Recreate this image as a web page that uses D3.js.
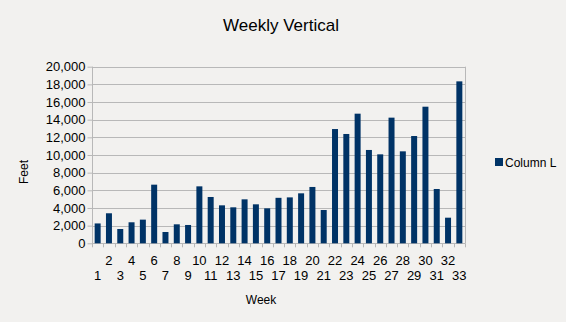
<!DOCTYPE html>
<html><head><meta charset="utf-8">
<script src="https://cdn.jsdelivr.net/npm/d3@7"></script>
<style>body{margin:0;background:#f2f1ef;}svg{display:block;font-family:"Liberation Sans",Arial,sans-serif;}</style>
</head><body>
<script>
const weeks = d3.range(1, 34).map(String);
const columnL = [2250,3400,1620,2380,2680,6640,1280,2150,2075,6450,5245,4300,4075,4980,4415,3960,5150,5200,5660,6380,3770,12940,12380,14680,10570,10075,14230,10415,12150,15470,6150,2900,18340];
const yTicks = [0,2000,4000,6000,8000,10000,12000,14000,16000,18000,20000];
const title = "Weekly Vertical", xTitle = "Week", yTitle = "Feet", seriesName = "Column L";

const W = 566, H = 322;
const svg = d3.select("body").append("svg").attr("width", W).attr("height", H);
svg.append("rect").attr("width", W).attr("height", H).attr("fill", "#f2f1ef");
const L = 92, R = 465, T = 66.7, B = 243.3;
const x = d3.scaleBand().domain(weeks).range([L, R]).paddingInner(0.47).paddingOuter(0.235);
const xb = d3.scaleLinear().domain([0, weeks.length]).range([L, R]);
const y = d3.scaleLinear().domain([0, 20000]).range([B, T]);
const fmt = d3.format(",");

// gridlines
svg.append("g").selectAll("line").data(yTicks).join("line")
  .attr("x1", L).attr("x2", R).attr("y1", d => Math.round(y(d)) + 0.5).attr("y2", d => Math.round(y(d)) + 0.5)
  .attr("stroke", "#b8b8b8").attr("stroke-width", 1);
// right border
svg.append("line").attr("x1", R + 0.5).attr("x2", R + 0.5).attr("y1", T).attr("y2", B).attr("stroke", "#b8b8b8");

// y axis
const ya = svg.append("g").attr("transform", `translate(${L + 0.5},0)`)
  .call(d3.axisLeft(y).tickValues(yTicks).tickFormat(fmt).tickSize(5).tickPadding(2));
ya.select(".domain").attr("stroke", "#b8b8b8").attr("d", `M0,${T}V${B}`);
ya.selectAll(".tick line").attr("stroke", "#b8b8b8");
ya.selectAll(".tick text").attr("font-size", 13).attr("fill", "#000").attr("font-family", "Liberation Sans, Arial, sans-serif");

// bars
svg.append("g").selectAll("rect").data(columnL).join("rect")
  .attr("x", (d, i) => x(weeks[i])).attr("width", x.bandwidth())
  .attr("y", d => y(d)).attr("height", d => B - y(d)).attr("fill", "#003366");

// x axis ticks at boundaries
svg.append("g").selectAll("line").data(d3.range(0, weeks.length + 1)).join("line")
  .attr("x1", d => Math.round(xb(d)) + 0.5).attr("x2", d => Math.round(xb(d)) + 0.5)
  .attr("y1", B).attr("y2", B + 4).attr("stroke", "#b8b8b8");
// x labels staggered
svg.append("g").selectAll("text").data(weeks).join("text")
  .attr("x", d => x(d) + x.bandwidth() / 2)
  .attr("y", (d, i) => i % 2 === 1 ? 265 : 280)
  .attr("text-anchor", "middle").attr("font-size", 13).attr("fill", "#000").text(d => d);

// titles
svg.append("text").attr("x", 281).attr("y", 31).attr("text-anchor", "middle").attr("font-size", 17).attr("fill", "#000").text(title);
svg.append("text").attr("x", 261).attr("y", 304).attr("text-anchor", "middle").attr("font-size", 12).attr("fill", "#000").text(xTitle);
svg.append("text").attr("transform", "translate(28,172) rotate(-90)").attr("text-anchor", "middle").attr("font-size", 12).attr("fill", "#000").text(yTitle);

// legend
svg.append("rect").attr("x", 495).attr("y", 158).attr("width", 8).attr("height", 8).attr("fill", "#003366");
svg.append("text").attr("x", 505).attr("y", 166.5).attr("font-size", 12).attr("fill", "#000").text(seriesName);
</script>
</body></html>
